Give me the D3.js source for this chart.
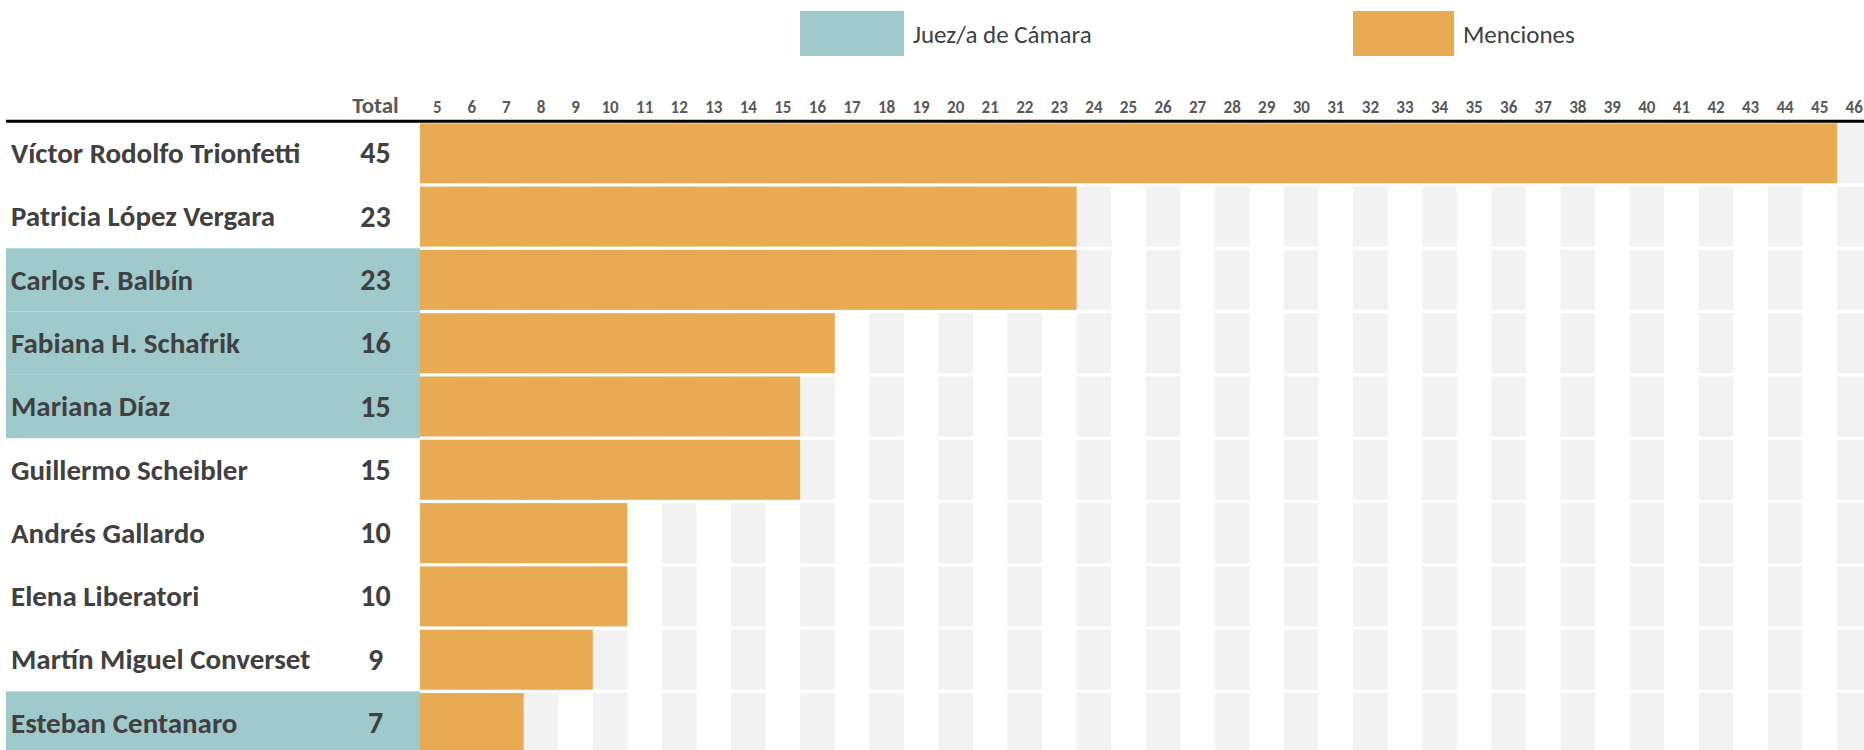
<!DOCTYPE html>
<html><head><meta charset="utf-8">
<script src="https://cdn.jsdelivr.net/npm/d3@7"></script>
<style>
  body { margin: 0; background: #fff; }
  text { font-family: Carlito, Calibri, "Liberation Sans", sans-serif; }
</style>
</head><body>
<div id="chart"></div>
<script>

// data
const names = ["Víctor Rodolfo Trionfetti", "Patricia López Vergara", "Carlos F. Balbín", "Fabiana H. Schafrik",
    "Mariana Díaz", "Guillermo Scheibler", "Andrés Gallardo", "Elena Liberatori",
    "Martín Miguel Converset", "Esteban Centanaro"];
const totals = [45, 23, 23, 16, 15, 15, 10, 10, 9, 7];
const camara = [false, false, true, true, true, false, false, false, false, true];
const columnTicks = [5, 6, 7, 8, 9, 10, 11, 12, 13, 14, 15, 16, 17, 18, 19, 20, 21, 22, 23, 24, 25,
    26, 27, 28, 29, 30, 31, 32, 33, 34, 35, 36, 37, 38, 39, 40, 41, 42, 43, 44, 45, 46];
const legendLabels = ["Juez/a de Cámara", "Menciones"];

const colBar = "#e8ab53";
const colTeal = "#a0c9cc";
const colGrid = "#f2f2f2";
const colText = "#404040";
const colHead = "#595959";

const width = 1864, height = 750;
const rowsLeft = 6, barsLeft = 420, colWidth = 34.56;

const svg = d3.select("#chart").append("svg")
    .attr("width", width)
    .attr("height", height);

// scales
let x = d3.scaleLinear()
    .domain([columnTicks[0] - 1, columnTicks[columnTicks.length - 1]])
    .range([barsLeft, barsLeft + colWidth * columnTicks.length]);

let y = d3.scaleBand()
    .domain(names)
    .range([121.65, 754.65])
    .paddingInner(0.052)
    .paddingOuter(0.026);

let rows = names.map((n, i) => ({name: n, total: totals[i], camara: camara[i]}));

// teal background for the chamber judges
svg.selectAll(".teal")
    .data(rows.filter(d => d.camara))
    .enter().append("rect")
    .attr("class", "teal")
    .attr("x", rowsLeft)
    .attr("y", d => y(d.name) - y.step() * y.paddingInner() / 2)
    .attr("width", barsLeft - rowsLeft)
    .attr("height", y.step())
    .attr("fill", colTeal);

// alternating grey columns, one cell per row
let evenCols = columnTicks.filter(k => k % 2 === 0);
let cells = [];
rows.forEach(r => evenCols.forEach(k => cells.push({name: r.name, col: k})));

svg.selectAll(".cell")
    .data(cells)
    .enter().append("rect")
    .attr("class", "cell")
    .attr("x", d => x(d.col - 1))
    .attr("y", d => y(d.name))
    .attr("width", d => x(d.col) - x(d.col - 1))
    .attr("height", y.bandwidth())
    .attr("fill", colGrid);

// bars
svg.selectAll(".bar")
    .data(rows)
    .enter().append("rect")
    .attr("class", "bar")
    .attr("x", x(columnTicks[0] - 1))
    .attr("y", d => y(d.name))
    .attr("width", d => x(d.total) - x(columnTicks[0] - 1))
    .attr("height", y.bandwidth())
    .attr("fill", colBar);

// names and totals
svg.selectAll(".name")
    .data(rows)
    .enter().append("text")
    .attr("class", "name")
    .attr("x", 11)
    .attr("y", d => y(d.name) + y.bandwidth() / 2 + 9.7)
    .attr("fill", colText)
    .style("font-weight", "bold")
    .style("font-size", "29px")
    .text(d => d.name);

svg.selectAll(".total")
    .data(rows)
    .enter().append("text")
    .attr("class", "total")
    .attr("x", 375.5)
    .attr("y", d => y(d.name) + y.bandwidth() / 2 + 10)
    .attr("text-anchor", "middle")
    .attr("fill", colText)
    .style("font-weight", "bold")
    .style("font-size", "30px")
    .text(d => d.total);

// header
svg.append("text")
    .attr("x", 375.5)
    .attr("y", 113.3)
    .attr("text-anchor", "middle")
    .attr("fill", colHead)
    .style("font-weight", "bold")
    .style("font-size", "23px")
    .text("Total");

svg.selectAll(".colLabel")
    .data(columnTicks)
    .enter().append("text")
    .attr("class", "colLabel")
    .attr("x", d => x(d - 0.5))
    .attr("y", 113)
    .attr("text-anchor", "middle")
    .attr("fill", colHead)
    .style("font-weight", "bold")
    .style("font-size", "17px")
    .text(d => d);

svg.append("line")
    .attr("x1", rowsLeft)
    .attr("x2", width)
    .attr("y1", 121.3)
    .attr("y2", 121.3)
    .attr("stroke", "#000")
    .attr("stroke-width", 3);

// legend
let legend = [
    {label: legendLabels[0], color: colTeal, x: 800, w: 104},
    {label: legendLabels[1], color: colBar, x: 1353, w: 101}
];

let lg = svg.selectAll(".legend")
    .data(legend)
    .enter().append("g")
    .attr("class", "legend");

lg.append("rect")
    .attr("x", d => d.x)
    .attr("y", 11)
    .attr("width", d => d.w)
    .attr("height", 45)
    .attr("fill", d => d.color);

lg.append("text")
    .attr("x", d => d.x + d.w + 9)
    .attr("y", 42.5)
    .attr("fill", colText)
    .style("font-size", "25px")
    .text(d => d.label);

</script>
</body></html>
